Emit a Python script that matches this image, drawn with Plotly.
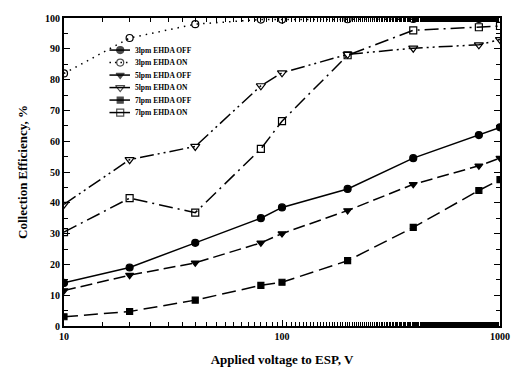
import plotly.graph_objects as go

voltage = [10, 20, 40, 80, 100, 200, 400, 800, 1000]

eff_3_off = [14.0, 19.0, 27.0, 35.0, 38.5, 44.5, 54.5, 62.0, 64.5]
eff_3_on = [82.0, 93.5, 98.0, 99.5, 99.5, 99.6, 99.7, 99.7, 99.7]
eff_5_off = [11.5, 16.5, 20.5, 27.0, 30.0, 37.5, 46.0, 52.0, 54.5]
eff_5_on = [39.5, 54.0, 58.3, 78.0, 82.2, 88.2, 90.2, 91.3, 93.0]
eff_7_off = [3.0, 4.7, 8.4, 13.2, 14.2, 21.2, 32.0, 44.0, 47.5]
eff_7_on = [30.5, 41.5, 36.8, 57.5, 66.5, 87.9, 96.0, 97.0, 97.4]

series_names = ["3lpm EHDA OFF", "3lpm EHDA ON", "5lpm EHDA OFF",
                "5lpm EHDA ON", "7lpm EHDA OFF", "7lpm EHDA ON"]
x_ticks = [10, 100, 1000]
y_ticks = list(range(0, 101, 10))

styles = [
    ("solid", "circle", 7),
    ("1.5px,5px", "circle-open", 7),
    ("12px,5px", "triangle-down", 7),
    ("14px,4px,2px,4px,2px,4px", "triangle-down-open", 8),
    ("14px,6px", "square", 6),
    ("14px,5px,2px,5px", "square-open", 7),
]
data = [eff_3_off, eff_3_on, eff_5_off, eff_5_on, eff_7_off, eff_7_on]

# plot-area geometry in pixels (for the hand-drawn legend key)
W, H = 522, 381
L, R, T, B = 63.5, 12.5, 12.7, 55.3
pw, ph = W - L - R, H - T - B


def fx(px):
    return (px - L) / pw


def fy(py):
    return (H - B - py) / ph


fig = go.Figure()
for name, ys, (dash, sym, sz) in zip(series_names, data, styles):
    fig.add_trace(go.Scatter(
        x=voltage, y=ys, name=name, mode="lines+markers", showlegend=False,
        line=dict(color="black", width=1.5, dash=dash),
        marker=dict(symbol=sym, size=sz, color="black",
                    line=dict(color="black", width=1.2)),
    ))

# legend (drawn inside the plot area, compact like the original)
leg_x0, leg_x1, leg_xm, leg_tx = 110, 131, 121, 134
row0, row_gap = 45.3, 12.7
annotations = []
for i, (name, (dash, sym, sz)) in enumerate(zip(series_names, styles)):
    py = row0 + row_gap * i
    dash_leg = "1.5px,4px" if i == 1 else "solid"
    fig.add_trace(go.Scatter(
        x=[fx(leg_x0), fx(leg_xm), fx(leg_x1)], y=[fy(py)] * 3,
        xaxis="x2", yaxis="y2", mode="lines+markers", showlegend=False,
        hoverinfo="skip",
        line=dict(color="black", width=1.5, dash=dash_leg),
        marker=dict(symbol=sym, size=[0, sz, 0], color="black",
                    line=dict(color="black", width=1.2)),
    ))
    annotations.append(dict(
        x=fx(leg_tx), y=fy(py), xref="x2", yref="y2", text=name,
        showarrow=False, xanchor="left", yanchor="middle",
        font=dict(size=7.5, weight="bold"),
    ))

font_family = "Liberation Serif, Times New Roman, serif"
fig.update_layout(
    width=W, height=H,
    margin=dict(l=L, r=R, t=T, b=B),
    paper_bgcolor="white", plot_bgcolor="white",
    font=dict(family=font_family, color="black", size=10, weight="bold"),
    showlegend=False,
    annotations=annotations,
    xaxis=dict(
        type="log", range=[1, 3], tickvals=x_ticks,
        ticktext=[str(v) for v in x_ticks],
        ticks="inside", ticklen=6, tickwidth=1.2, tickcolor="black",
        showline=True, linecolor="black", linewidth=2, mirror="ticks",
        showgrid=False, zeroline=False,
        minor=dict(ticks="inside", ticklen=4, tickwidth=1, tickcolor="black", showgrid=False),
        tickfont=dict(size=10, weight="bold"),
        title=dict(text="Applied voltage to ESP, V", font=dict(size=13, weight="bold"), standoff=14),
    ),
    yaxis=dict(
        range=[0, 100], tickvals=y_ticks,
        ticks="inside", ticklen=6, tickwidth=1.2, tickcolor="black",
        showline=True, linecolor="black", linewidth=2, mirror="ticks",
        showgrid=False, zeroline=False,
        minor=dict(dtick=5, ticks="inside", ticklen=4, tickwidth=1, tickcolor="black", showgrid=False),
        tickfont=dict(size=10, weight="bold"),
        title=dict(text="Collection Efficiency, %", font=dict(size=13, weight="bold"), standoff=14),
    ),
    xaxis2=dict(range=[0, 1], overlaying="x", visible=False, fixedrange=True),
    yaxis2=dict(range=[0, 1], overlaying="y", visible=False, fixedrange=True),
)

fig.write_html("out.html")
